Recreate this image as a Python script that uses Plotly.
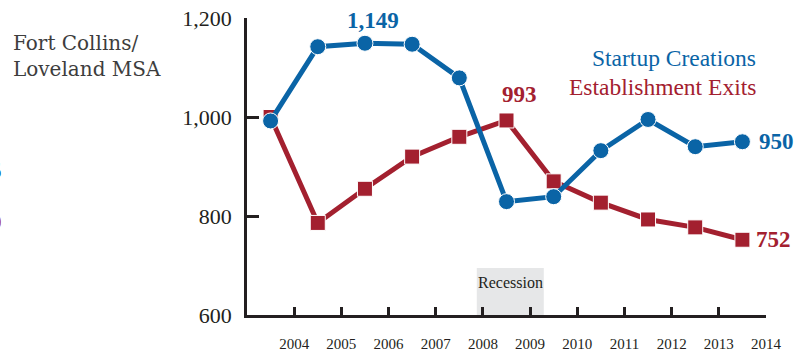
import plotly.graph_objects as go

# ---- data ----
years = [2003, 2004, 2005, 2006, 2007, 2008, 2009, 2010, 2011, 2012, 2013]
startup_creations = [992, 1142, 1149, 1147, 1079, 829, 839, 932, 995, 940, 950]
establishment_exits = [1000, 786, 855, 920, 960, 993, 870, 827, 793, 777, 752]
tick_years = [2004, 2005, 2006, 2007, 2008, 2009, 2010, 2011, 2012, 2013, 2014]
tick_labels = [str(y) for y in tick_years]
y_ticks = [600, 800, 1000, 1200]
y_tick_labels = ["600", "800", "1,000", "1,200"]

BLUE = "#0a64a6"
RED = "#a3202f"
INK = "#231f20"
SERIF = "Liberation Serif, Times New Roman, serif"

x_mid = [y + 0.5 for y in years]

W, H = 810, 354
L, R, T, B = 247, 44, 18, 39
pw, ph = W - L - R, H - T - B

def px(x):
    return (x - L) / pw

def py(y):
    return 1 - (y - T) / ph

fig = go.Figure()

fig.add_trace(go.Scatter(
    x=x_mid, y=establishment_exits, mode="lines+markers",
    line=dict(color=RED, width=5),
    marker=dict(symbol="square", size=15, color=RED, line=dict(color="white", width=1)),
    showlegend=False, hoverinfo="skip"))

fig.add_trace(go.Scatter(
    x=x_mid, y=startup_creations, mode="lines+markers",
    line=dict(color=BLUE, width=5),
    marker=dict(symbol="circle", size=16, color=BLUE, line=dict(color="white", width=1)),
    showlegend=False, hoverinfo="skip"))

# recession band
fig.add_shape(type="rect", xref="x", yref="y", x0=2007.87, x1=2009.29, y0=586, y1=695,
              fillcolor="#e6e7e8", line=dict(width=0), layer="below")

NUMF = 23
ann = [
    dict(x=2008.58, y=665, xref="x", yref="y", text="Recession", showarrow=False,
         font=dict(family=SERIF, size=16, color=INK)),
    dict(x=x_mid[2], y=startup_creations[2], text="<b>1,149</b>", showarrow=False,
         yshift=23, xshift=8, font=dict(family=SERIF, size=NUMF, color=BLUE)),
    dict(x=x_mid[5], y=establishment_exits[5], text="<b>993</b>", showarrow=False,
         yshift=26, xshift=13, font=dict(family=SERIF, size=NUMF, color=RED)),
    dict(x=x_mid[-1], y=startup_creations[-1], text="<b>950</b>", showarrow=False,
         xanchor="left", xshift=15, font=dict(family=SERIF, size=NUMF, color=BLUE)),
    dict(x=x_mid[-1], y=establishment_exits[-1], text="<b>752</b>", showarrow=False,
         xanchor="left", xshift=12, font=dict(family=SERIF, size=NUMF, color=RED)),
    dict(x=px(758), y=py(58), xref="paper", yref="paper", xanchor="right", yanchor="middle",
         text="Startup Creations", showarrow=False, font=dict(family=SERIF, size=23.5, color=BLUE)),
    dict(x=px(758), y=py(87), xref="paper", yref="paper", xanchor="right", yanchor="middle",
         text="Establishment Exits", showarrow=False, font=dict(family=SERIF, size=23.5, color=RED)),
    dict(x=px(11), y=py(29), xref="paper", yref="paper", xanchor="left", yanchor="top",
         align="left", text="Fort Collins/<br>Loveland MSA", showarrow=False,
         font=dict(family="DejaVu Serif, serif", size=20, color="#3d3d3d")),
    dict(x=px(4), y=py(170), xref="paper", yref="paper", xanchor="right", yanchor="middle",
         text="<b>5</b>", showarrow=False, font=dict(family=SERIF, size=NUMF, color=BLUE)),
    dict(x=px(4), y=py(222), xref="paper", yref="paper", xanchor="right", yanchor="middle",
         text="<b>9</b>", showarrow=False, font=dict(family=SERIF, size=NUMF, color=RED)),
]

fig.update_layout(
    width=W, height=H,
    margin=dict(l=L, r=R, t=T, b=B, pad=0, autoexpand=False),
    paper_bgcolor="white", plot_bgcolor="white",
    annotations=ann,
    xaxis=dict(range=[2003, 2014], tickvals=tick_years, ticktext=tick_labels,
               showgrid=False, zeroline=False, showline=True, linecolor=INK, linewidth=2.5,
               ticks="inside", ticklen=8, tickwidth=2.5, tickcolor=INK,
               ticklabelstandoff=13, automargin=False,
               tickfont=dict(family=SERIF, size=15, color=INK), fixedrange=True),
    yaxis=dict(range=[600, 1200], tickvals=y_ticks, ticktext=y_tick_labels,
               showgrid=False, zeroline=False, showline=True, linecolor=INK, linewidth=2.5,
               ticks="inside", ticklen=12, tickwidth=2.5, tickcolor=INK,
               ticklabelstandoff=8, automargin=False,
               tickfont=dict(family=SERIF, size=22, color=INK), fixedrange=True),
)

fig.write_html("out.html", config={"displayModeBar": False},
               post_script="document.body.style.margin='0';document.body.style.overflow='hidden';")
